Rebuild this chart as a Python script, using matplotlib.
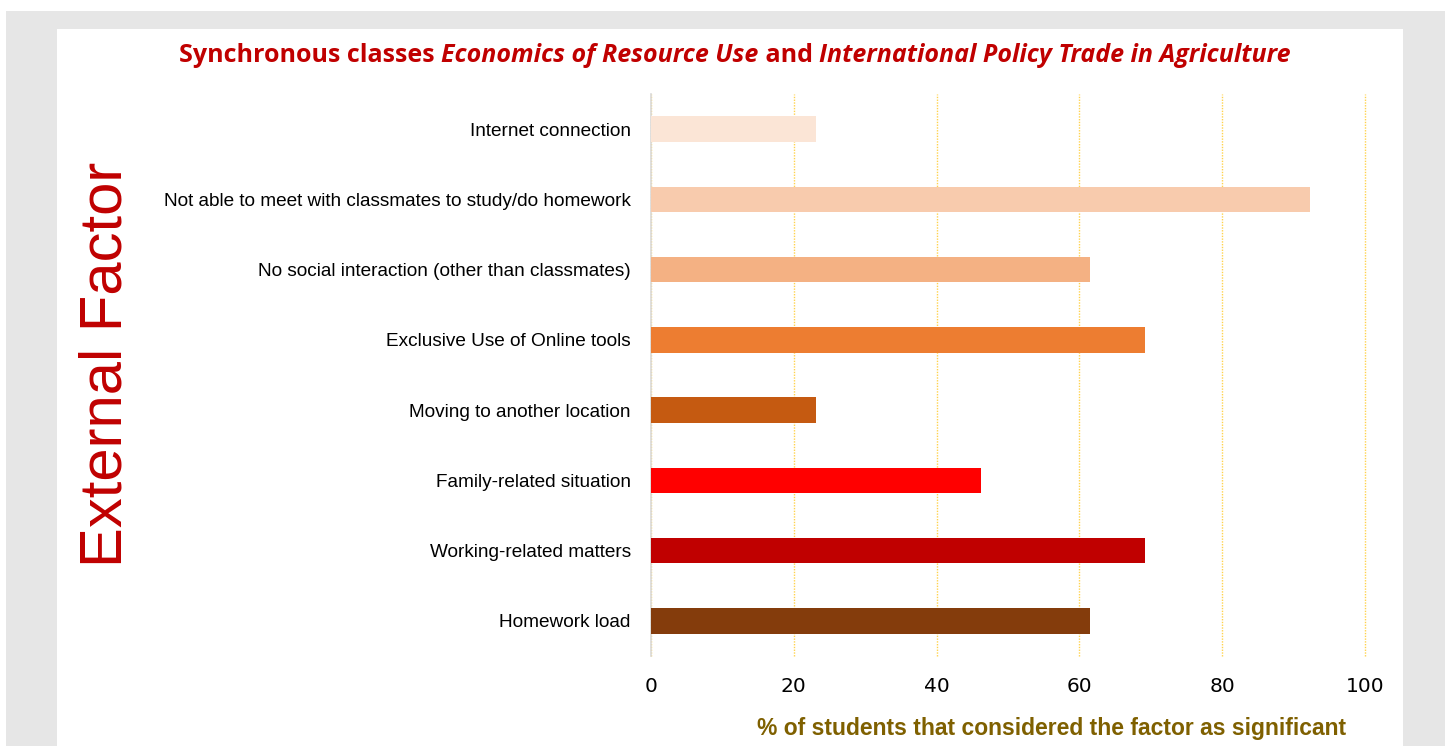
import matplotlib
matplotlib.use("Agg")
import matplotlib.pyplot as plt
from matplotlib.patches import Rectangle

categories = [
    "Internet connection",
    "Not able to meet with classmates to study/do homework",
    "No social interaction (other than classmates)",
    "Exclusive Use of Online tools",
    "Moving to another location",
    "Family-related situation",
    "Working-related matters",
    "Homework load",
]
values = [23.1, 92.3, 61.5, 69.2, 23.1, 46.2, 69.2, 61.5]
colors = ["#FBE5D6", "#F8CBAD", "#F4B183", "#ED7D31", "#C55A11", "#FF0000", "#C00000", "#843C0C"]
xticks = [0, 20, 40, 60, 80, 100]
title_parts = [("Synchronous classes ", "normal"), ("Economics of Resource Use", "italic"),
               (" and ", "normal"), ("International Policy Trade in Agriculture", "italic")]

W, H = 1445, 746
fig = plt.figure(figsize=(W / 100, H / 100), dpi=100)
fig.patch.set_facecolor("white")
fig.add_artist(Rectangle((6 / W, 0), (W - 6) / W, (H - 11) / H, transform=fig.transFigure,
                         facecolor="#E6E6E6", edgecolor="none", zorder=0))
fig.add_artist(Rectangle((57 / W, 0), (1403 - 57) / W, (H - 29) / H, transform=fig.transFigure,
                         facecolor="white", edgecolor="none", zorder=0))

left, right, top, bottom = 651, 1365, 94, 656
ax = fig.add_axes([left / W, 1 - bottom / H, (right - left) / W, (bottom - top) / H])
ax.set_facecolor("none")
y = list(range(len(categories)))
ax.barh(y, values, height=0.36, color=colors, zorder=3)
ax.set_ylim(len(categories) - 0.5, -0.5)
ax.set_xlim(0, 100)
ax.set_yticks(y)
ax.set_yticklabels(categories, fontsize=13.7, family="Liberation Sans", color="black")
ax.set_xticks(xticks)
ax.set_xticklabels([str(v) for v in xticks], fontsize=14.5, family="DejaVu Sans", color="black")
ax.tick_params(axis="y", length=0, pad=14.5)
ax.tick_params(axis="x", length=0, pad=15)
for s in ["top", "right", "bottom"]:
    ax.spines[s].set_visible(False)
ax.spines["left"].set_color("#D9D9D9")
ax.spines["left"].set_linewidth(1.2)
ax.grid(axis="x", color="#FFD34D", linestyle=(0, (1, 1)), linewidth=1.0, zorder=0)
for gl in ax.get_xgridlines():
    gl.set_clip_on(False)
ax.set_axisbelow(True)

fig.text(1052 / W, 1 - 729 / H, "% of students that considered the factor as significant",
         ha="center", va="center", fontsize=16.5, fontweight="bold", family="Liberation Sans",
         color="#7F6000")

fig.text(106 / W, 1 - 364 / H, "External Factor", rotation=90, ha="center", va="center",
         fontsize=43, color="#C00000", family="Liberation Sans")

# title composed of bold and bold-italic pieces
renderer = fig.canvas.get_renderer()
texts = []
for s, st in title_parts:
    t = fig.text(0, 1 - 55 / H, s, ha="left", va="center", fontsize=18, fontweight="bold",
                 fontstyle=st, color="#C00000", family="Open Sans")
    texts.append(t)
widths = [t.get_window_extent(renderer=renderer).width for t in texts]
cur = 735 - sum(widths) / 2
for t, w in zip(texts, widths):
    t.set_x(cur / W)
    cur += w

fig.savefig("out.png", dpi=100)
